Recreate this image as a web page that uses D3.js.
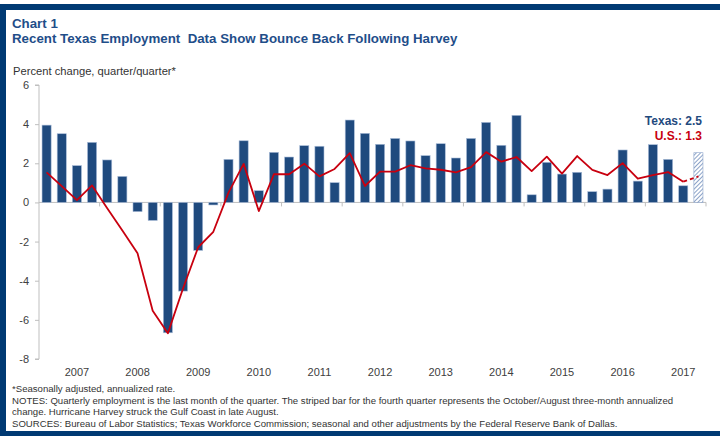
<!DOCTYPE html>
<html>
<head>
<meta charset="utf-8">
<script src="https://cdn.jsdelivr.net/npm/d3@7"></script>
<style>
  html, body { margin: 0; padding: 0; background: #fff; }
  svg { display: block; font-family: Arial, "Liberation Sans", sans-serif; }
</style>
</head>
<body>
<svg id="chart" width="720" height="436"></svg>
<script>
// ---- Data ----
const years = ["2007","2008","2009","2010","2011","2012","2013","2014","2015","2016","2017"];
const quarters = ["Q1","Q2","Q3","Q4"];
const texas = [
  3.95, 3.51, 1.88, 3.07,
  2.17, 1.33, -0.47, -0.92,
  -6.66, -4.53, -2.45, -0.13,
  2.20, 3.15, 0.60, 2.56,
  2.32, 2.90, 2.87, 1.01,
  4.21, 3.53, 2.97, 3.27,
  3.14, 2.39, 3.00, 2.27,
  3.27, 4.09, 2.92, 4.45,
  0.39, 2.05, 1.45, 1.54,
  0.55, 0.68, 2.68, 1.09,
  2.95, 2.20, 0.85, 2.54
];
const us = [
  1.54, 0.83, 0.12, 0.87,
  -0.30, -1.44, -2.60, -5.53,
  -6.69, -4.40, -2.29, -1.50,
  0.50, 1.97, -0.44, 1.45,
  1.44, 1.98, 1.33, 1.71,
  2.52, 0.84, 1.57, 1.57,
  1.90, 1.74, 1.67, 1.54,
  1.80, 2.57, 2.08, 2.32,
  1.60, 2.34, 1.47, 2.37,
  1.66, 1.40, 2.01, 1.21,
  1.40, 1.55, 1.06, 1.33
];
const yTicks = [-8, -6, -4, -2, 0, 2, 4, 6];
const texasLabel = "Texas: 2.5";
const usLabel = "U.S.: 1.3";
const titleTop = "Chart 1";
const titleMain = "Recent Texas Employment  Data Show Bounce Back Following Harvey";
const yTitle = "Percent change, quarter/quarter*";
const notes = [
  "*Seasonally adjusted, annualized rate.",
  "NOTES: Quarterly employment is the last month of the quarter. The striped bar for the fourth quarter represents the October/August three-month annualized",
  "change. Hurricane Harvey struck the Gulf Coast in late August.",
  "SOURCES: Bureau of Labor Statistics; Texas Workforce Commission; seasonal and other adjustments by the Federal Reserve Bank of Dallas."
];

// ---- Build ----
const periods = [];
years.forEach(y => quarters.forEach(q => periods.push(y + q)));
const rows = periods.map((p, i) => ({ p, i, tx: texas[i], us: us[i] }));

const svg = d3.select("#chart");
const navy = "#003a73";
const barBlue = "#1f4a7e";
const red = "#c8000f";
const titleBlue = "#1f4e89";
const grey = "#bfbfbf";
const textGrey = "#404040";

// Frame
svg.append("rect").attr("x", 0).attr("y", 0).attr("width", 720).attr("height", 436).attr("fill", "#fff");
svg.append("rect").attr("x", 0).attr("y", 4).attr("width", 720).attr("height", 6).attr("fill", navy);
svg.append("rect").attr("x", 0).attr("y", 4).attr("width", 6).attr("height", 432).attr("fill", navy);
svg.append("rect").attr("x", 0).attr("y", 431).attr("width", 720).attr("height", 5).attr("fill", navy);

// Titles
svg.append("text").attr("x", 12).attr("y", 28).attr("fill", titleBlue)
  .attr("font-size", 13.3).attr("font-weight", "bold").text(titleTop);
svg.append("text").attr("x", 12).attr("y", 43).attr("fill", titleBlue)
  .attr("font-size", 13.3).attr("font-weight", "bold")
  .style("white-space", "pre").text(titleMain);
svg.append("text").attr("x", 13).attr("y", 75).attr("fill", "#333")
  .attr("font-size", 11.2).text(yTitle);

// Scales
const x = d3.scaleBand().domain(periods).range([39, 706]).paddingInner(0.4).paddingOuter(0.2);
const y = d3.scaleLinear().domain([-8, 6]).range([359, 85]);

// Y axis
const yAxis = svg.append("g").attr("transform", "translate(39,0)")
  .call(d3.axisLeft(y).tickValues(yTicks).tickSize(4).tickPadding(6).tickFormat(d => String(d)));
yAxis.select(".domain").attr("stroke", grey).attr("d", `M-4,${y(6)}H0V${y(-8)}H-4`);
yAxis.selectAll(".tick line").attr("stroke", grey);
yAxis.selectAll(".tick text").attr("fill", textGrey).attr("font-size", 11)
  .attr("font-family", "Arial, 'Liberation Sans', sans-serif");

// Zero line with year-boundary tick marks
const xAxis = svg.append("g").attr("transform", `translate(0,${y(0)})`)
  .call(d3.axisBottom(x).tickValues(periods.filter((p, i) => i % 4 === 0 && i > 0)).tickSize(4).tickFormat(""));
xAxis.select(".domain").attr("stroke", grey).attr("d", `M39,0H706V4`);
xAxis.selectAll(".tick").attr("transform", d => `translate(${x(d) - (x.step() - x.bandwidth()) / 2},0)`);
xAxis.selectAll(".tick line").attr("stroke", grey);

// Year labels (centered on third-quarter bar)
svg.append("g").selectAll("text").data(years).join("text")
  .attr("x", yr => x(yr + "Q3") + x.bandwidth() / 2)
  .attr("y", 376).attr("text-anchor", "middle")
  .attr("fill", textGrey).attr("font-size", 11).text(d => d);

// Hatch pattern
const defs = svg.append("defs");
const pat = defs.append("pattern").attr("id", "hatch").attr("patternUnits", "userSpaceOnUse")
  .attr("width", 3).attr("height", 3).attr("patternTransform", "rotate(45)");
pat.append("rect").attr("width", 3).attr("height", 3).attr("fill", "#ffffff");
pat.append("line").attr("x1", 0).attr("y1", 0).attr("x2", 0).attr("y2", 3)
  .attr("stroke", "#5a7bb0").attr("stroke-width", 1.4);

// Bars
const last = rows.length - 1;
svg.append("g").selectAll("rect").data(rows).join("rect")
  .attr("x", d => x(d.p))
  .attr("width", x.bandwidth())
  .attr("y", d => y(Math.max(0, d.tx)))
  .attr("height", d => Math.abs(y(d.tx) - y(0)))
  .attr("fill", d => d.i === last ? "url(#hatch)" : barBlue)
  .attr("stroke", d => d.i === last ? "#8ea6cc" : "#a9bcd8")
  .attr("stroke-width", 0.6);

// US line
const line = d3.line().x(d => x(d.p) + x.bandwidth() / 2).y(d => y(d.us));
svg.append("path").datum(rows.slice(0, last))
  .attr("d", line).attr("fill", "none").attr("stroke", red)
  .attr("stroke-width", 1.8).attr("stroke-linejoin", "round");
svg.append("path").datum(rows.slice(last - 1))
  .attr("d", line).attr("fill", "none").attr("stroke", red)
  .attr("stroke-width", 1.8).attr("stroke-dasharray", "4,3");

// Labels
svg.append("text").attr("x", 702).attr("y", 125).attr("text-anchor", "end")
  .attr("fill", barBlue).attr("font-size", 12).attr("font-weight", "bold").text(texasLabel);
svg.append("text").attr("x", 702).attr("y", 139.5).attr("text-anchor", "end")
  .attr("fill", red).attr("font-size", 12).attr("font-weight", "bold").text(usLabel);

// Notes
svg.append("g").selectAll("text").data(notes).join("text")
  .attr("x", 12).attr("y", (d, i) => 392 + i * 11.5)
  .attr("fill", "#333").attr("font-size", 9.6).text(d => d);
</script>
</body>
</html>
